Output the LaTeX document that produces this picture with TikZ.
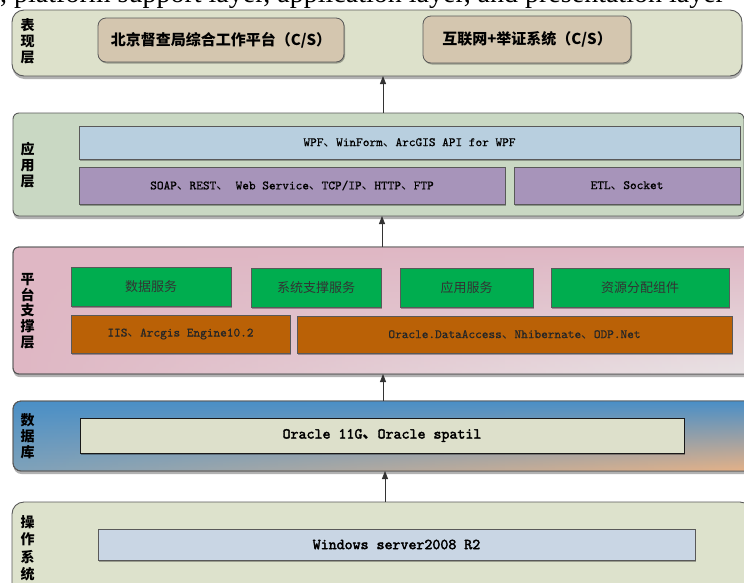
\documentclass[tikz,border=0pt]{standalone}
\usepackage{fontspec}
\setmainfont{Liberation Serif}
\newfontfamily\cjk{Noto Sans CJK SC}
\newfontfamily\mono{lmmono10-regular}[Extension=.otf,FakeBold=0.8]
\newfontfamily\monob{lmmono10-regular}[Extension=.otf,FakeBold=2.5]
\usetikzlibrary{shadows,arrows.meta,fadings}
\definecolor{lone}{HTML}{DDE1CB}
\definecolor{ltwo}{HTML}{C9D8C3}
\definecolor{lfive}{HTML}{DDE2CC}
\definecolor{pinkA}{HTML}{DFB7C4}
\definecolor{pinkB}{HTML}{E9E3E5}
\definecolor{blueA}{HTML}{4A8FC7}
\definecolor{blueM}{HTML}{7FA2BA}
\definecolor{peach}{HTML}{E6B287}
\definecolor{tan}{HTML}{D4C6AF}
\definecolor{lblue}{HTML}{B8CFDF}
\definecolor{purp}{HTML}{A794BA}
\definecolor{grn}{HTML}{00AD4F}
\definecolor{orng}{HTML}{BA6106}
\definecolor{oracbox}{HTML}{DDE0CB}
\definecolor{winbox}{HTML}{C9D6E4}
\newcommand\dun{{\cjk 、}}
\newcommand\mkbox[7]{\node[#2,anchor=north west,inner sep=0pt,outer sep=0pt,
  minimum width={(#5-#3)*1pt},minimum height={(#6-#4)*1pt}] (#1) at (#3,#4) {#7};}
\begin{document}
\begin{tikzpicture}[x=1pt,y=-1pt,
  layer/.style={draw=black!65,line width=0.9pt,
    drop shadow={shadow xshift=0.5pt,shadow yshift=-3pt,opacity=0.3,fill=black}},
  edge/.style={draw=black!65,line width=0.9pt},
  inbox/.style={draw=black!65,line width=0.8pt,
    drop shadow={shadow xshift=1pt,shadow yshift=-1.5pt,opacity=0.3,fill=black}},
  lab/.style={font=\cjk\bfseries\fontsize{14}{16}\selectfont,align=center,inner sep=0pt},
  ttx/.style={font=\mono\fontsize{12.7}{14}\selectfont,text=black},
  ttb/.style={font=\monob\fontsize{15.2}{17}\selectfont,text=black},
  cjt/.style={font=\cjk\fontsize{13}{15}\selectfont,text=black!80},
  arr/.style={draw=black!80,line width=0.8pt,-{Triangle[length=8pt,width=6pt]}}]
\useasboundingbox (0,0) rectangle (744,582);
% clipped body text at top
\node[anchor=base west,inner sep=0pt,font=\fontsize{28}{28}\selectfont] (toptext) at (0,2.5)
  {, platform support layer, application layer, and presentation layer};
% layers
\mkbox{L1}{layer,fill=lone,rounded corners=12pt}{12}{10}{742}{76}{}
\mkbox{L2}{layer,fill=ltwo,rounded corners=6pt}{13}{113}{744}{216}{}
\mkbox{L3}{layer,rounded corners=6pt,fill=pinkA}{13}{247}{752}{374}{}
\shade[rounded corners=6pt,top color=pinkA,bottom color=pinkB,path fading=west]
  (L3.north west) rectangle (L3.south east);
\draw[edge,rounded corners=6pt] (L3.north west) rectangle (L3.south east);
\mkbox{L4}{layer,rounded corners=8pt,top color=blueA,bottom color=blueM}{13}{401}{752}{471}{}
\shade[rounded corners=8pt,top color=blueA,bottom color=peach,path fading=west]
  (L4.north west) rectangle (L4.south east);
\draw[edge,rounded corners=8pt] (L4.north west) rectangle (L4.south east);
\mkbox{L5}{layer,fill=lfive,rounded corners=12pt}{12}{502}{752}{600}{}
% labels
\node[lab] (t1) at (27.5,41) {表\\现\\层};
\node[lab] (t2) at (27.5,165) {应\\用\\层};
\node[lab,font=\cjk\bfseries\fontsize{14}{15.6}\selectfont] (t3) at (27.5,311) {平\\台\\支\\撑\\层};
\node[lab] (t4) at (27.5,436) {数\\据\\库};
\node[lab,font=\cjk\bfseries\fontsize{14}{17.5}\selectfont] (t5) at (27.5,548) {操\\作\\系\\统};
% layer 1
\mkbox{P1}{inbox,fill=tan,rounded corners=8pt,font=\cjk\bfseries\fontsize{15}{17}\selectfont}{98}{18}{344}{62}{北京督查局综合工作平台（C/S）}
\mkbox{P2}{inbox,fill=tan,rounded corners=8pt,font=\cjk\bfseries\fontsize{15}{17}\selectfont}{423}{16}{631}{63}{互联网+举证系统（C/S）}
% layer 2
\mkbox{A1}{inbox,fill=lblue,ttx}{79}{126}{740}{159}{WPF\dun WinForm\dun ArcGIS API for WPF}
\mkbox{A2}{inbox,fill=purp,ttx}{79}{167}{505}{204}{SOAP\dun REST\dun\ Web Service\dun TCP/IP\dun HTTP\dun FTP}
\mkbox{A3}{inbox,fill=purp,ttx}{514}{167}{740}{204}{ETL\dun Socket}
% layer 3
\mkbox{S1}{inbox,fill=grn,cjt}{71}{267}{231}{306}{数据服务}
\mkbox{S2}{inbox,fill=grn,cjt}{251}{268}{381}{307}{系统支撑服务}
\mkbox{S3}{inbox,fill=grn,cjt}{400}{268}{533}{307}{应用服务}
\mkbox{S4}{inbox,fill=grn,cjt}{551}{268}{729}{307}{资源分配组件}
\mkbox{S5}{inbox,fill=orng,ttx,text=black!85}{71}{315}{290}{353}{IIS\dun Arcgis Engine10.2}
\mkbox{S6}{inbox,fill=orng,ttx,text=black!85}{297}{316}{732}{353}{Oracle.DataAccess\dun Nhibernate\dun ODP.Net}
% layer 4
\mkbox{D1}{inbox,fill=oracbox,draw=black!90,ttb}{80}{418}{684}{453}{Oracle 11G{\cjk\bfseries 、}Oracle spatil}
% layer 5
\mkbox{W1}{inbox,fill=winbox,ttb}{98}{529}{695}{560}{Windows server2008 R2}
% arrows
\coordinate (x1) at (383,0);
\coordinate (x2) at (382,0);
\coordinate (x3) at (383,0);
\coordinate (x4) at (385,0);
\draw[arr] (x1 |- L2.north) -- (x1 |- L1.south);
\draw[arr] (x2 |- L3.north) -- (x2 |- L2.south);
\draw[arr] (x3 |- L4.north) -- (x3 |- L3.south);
\draw[arr] (x4 |- L5.north) -- (x4 |- L4.south);
\end{tikzpicture}
\end{document}
